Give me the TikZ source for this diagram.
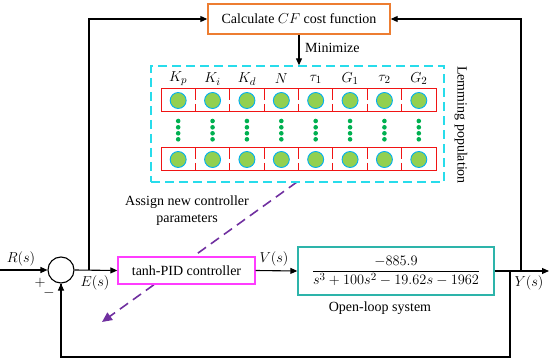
\documentclass[tikz,border=0pt]{standalone}
\usepackage{amsmath}
\usepackage{fontspec}
\setmainfont{Liberation Serif}
\usetikzlibrary{arrows.meta}
\definecolor{cforange}{RGB}{237,125,49}
\definecolor{popcyan}{RGB}{40,220,235}
\definecolor{cellred}{RGB}{240,20,20}
\definecolor{ballgreen}{RGB}{146,208,80}
\definecolor{ballblue}{RGB}{0,176,240}
\definecolor{dotgreen}{RGB}{0,176,80}
\definecolor{pidmag}{RGB}{255,60,255}
\definecolor{plantteal}{RGB}{45,180,170}
\definecolor{assignpurple}{RGB}{112,48,160}
\tikzset{
  tip/.tip={Triangle[length=7pt,width=6pt]},
  sig/.style={line width=1.1pt,-tip},
  wire/.style={line width=1.1pt},
  cfbox/.style={draw=cforange,line width=1.4pt,minimum width=182pt,minimum height=30pt,inner sep=0pt},
  popbox/.style={draw=popcyan,line width=1.3pt,dash pattern=on 9pt off 5pt,minimum width=293pt,minimum height=116pt,inner sep=0pt},
  rowbox/.style={draw=cellred,line width=1pt,minimum width=275pt,minimum height=23pt,inner sep=0pt},
  ball/.style={circle,fill=ballgreen,draw=ballblue,line width=0.9pt,minimum size=16pt,inner sep=0pt},
  gdot/.style={circle,fill=dotgreen,minimum size=4.6pt,inner sep=0pt},
  pidbox/.style={draw=pidmag,fill=white,line width=1.4pt,minimum width=137pt,minimum height=27pt,inner sep=0pt},
  plantbox/.style={draw=plantteal,line width=1.4pt,minimum width=196pt,minimum height=48pt,inner sep=0pt,font=\fontsize{15.5}{18}\selectfont},
  sumnode/.style={circle,draw,line width=1.1pt,minimum size=26pt,inner sep=0pt},
  lbl/.style={inner sep=1pt},
  mlbl/.style={inner sep=1pt,font=\fontsize{15}{18}\selectfont},
  assign/.style={draw=assignpurple,line width=1.6pt,dash pattern=on 10pt off 6pt,-{Triangle[length=10pt,width=9pt]}}
}
\begin{document}
\begin{tikzpicture}[x=1pt,y=-1pt,font=\fontsize{14}{17}\selectfont]
\useasboundingbox (0,0) rectangle (550,361);
% assign arrow (drawn first, passes behind the controller box)
\coordinate (as) at (297,182);
\coordinate (ae) at (102,322);
\draw[assign] (as) -- (ae);
\node[lbl,align=center] (asg) at (187,211) {Assign new controller\\parameters};
% top: cost function
\node[cfbox] (cf) at (299,19) {Calculate $CF$ cost function};
\node[popbox] (pop) at (297.5,124) {};
\draw[sig] (cf.south) -- (cf.south |- pop.north);
\node[lbl,anchor=west] (minz) at (304,48) {Minimize};
\node[rotate=-90,lbl] (lem) at (461,125) {Lemming population};
% rows of cells
\node[rowbox] (row1) at (298.5,100.5) {};
\node[rowbox] (row2) at (298.5,159.5) {};
\foreach \i/\lab in {0/K_p,1/K_i,2/K_d,3/N,4/\tau_1,5/G_1,6/\tau_2,7/G_2}{
  \pgfmathsetmacro{\cx}{161+34.375*\i+17.19}
  \node[mlbl] (lab\i) at (\cx,79) {$\lab$};
  \node[ball] (b1\i) at (\cx,100.5) {};
  \node[ball] (b2\i) at (\cx,159.5) {};
  \foreach \k/\yy in {1/121,2/127.3,3/133.3,4/139.3}{
    \node[gdot] (d\i\k) at (\cx,\yy) {};
  }
}
\foreach \i in {1,...,7}{
  \pgfmathsetmacro{\dx}{161+34.375*\i}
  \draw[cellred,line width=1pt] (\dx,89) -- (\dx,100) (\dx,104) -- (\dx,112);
  \draw[cellred,line width=1pt] (\dx,148) -- (\dx,159) (\dx,163) -- (\dx,171);
}
% loop
\node[sumnode] (sum) at (61,270) {};
\coordinate (in) at (0,270);
\draw[sig] (in) -- (sum.west);
\node[mlbl] (rs) at (21,259) {$R(s)$};
\node[mlbl] (plus) at (40,283) {$+$};
\node[mlbl] (minus) at (49,293) {$-$};
\node[pidbox] (pid) at (186.5,270.5) {tanh-PID controller};
\draw[sig] (sum.east) -- (pid.west);
\coordinate (ej) at (89,270);
\node[mlbl] (es) at (95,283) {$E(s)$};
\node[plantbox] (plant) at (396,271) {$\dfrac{-885.9}{s^3+100s^2-19.62s-1962}$};
\draw[sig] (pid.east) -- (plant.west);
\node[mlbl] (vs) at (274,259) {$V(s)$};
\node[lbl] (ol) at (380,308) {Open-loop system};
\coordinate (out) at (549,271);
\draw[sig] (plant.east) -- (out);
\node[mlbl] (ys) at (529,283) {$Y(s)$};
\coordinate (yj) at (521,271);
\coordinate (fb) at (510,271);
\draw[sig] (yj) |- (cf.east);
\draw[sig] (ej) |- (cf.west);
\draw[wire] (fb) -- (510,357) -| (sum.south);
\draw[sig] (61,300) -- (sum.south);
\end{tikzpicture}
\end{document}
